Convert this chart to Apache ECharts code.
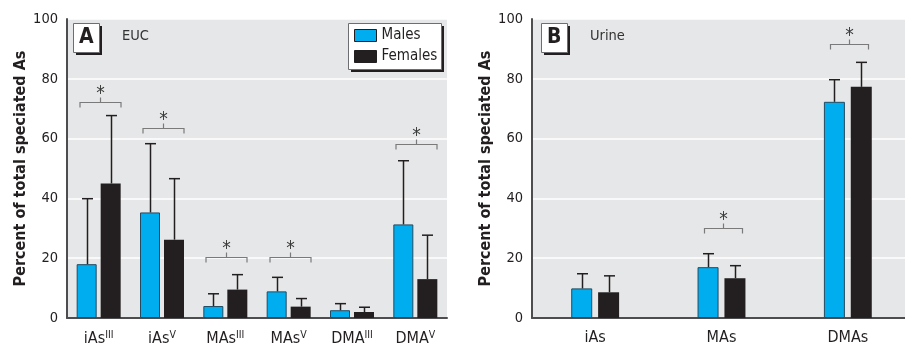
<!DOCTYPE html>
<html><head><meta charset="utf-8">
<script src="https://cdn.jsdelivr.net/npm/echarts@6/dist/echarts.min.js"></script>
<style>html,body{margin:0;padding:0;background:#fff}#c{width:905px;height:343px}</style>
</head><body><div id="c"></div>
<script>
// ---- data ----
const categoriesA = ['iAsIII','iAsV','MAsIII','MAsV','DMAIII','DMAV'];
const malesA = [18.0, 35.3, 4.0, 8.9, 2.6, 31.3];
const femalesA = [45.0, 26.2, 9.5, 3.8, 2.0, 13.0];
const malesErrA = [21.9, 23.0, 4.1, 4.7, 2.2, 21.3];
const femalesErrA = [22.7, 20.4, 5.0, 2.7, 1.6, 14.7];
const sigCatsA = [0, 1, 2, 3, 5];
const sigLevelsA = [72.3, 63.6, 20.4, 20.4, 58.3];

const categoriesB = ['iAs','MAs','DMAs'];
const malesB = [9.9, 17.0, 72.3];
const femalesB = [8.6, 13.3, 77.3];
const malesErrB = [4.9, 4.5, 7.4];
const femalesErrB = [5.5, 4.2, 8.2];
const sigCatsB = [1, 2];
const sigLevelsB = [30.0, 91.5];

const yMin = 0, yMax = 100, yStep = 20;
const yTitle = 'Percent of total speciated As';
const panelLabels = ['A', 'B'];
const panelNames = ['EUC', 'Urine'];
const seriesNames = ['Males', 'Females'];

// ---- style ----
const FF = "'DejaVu Sans Condensed','DejaVu Sans',sans-serif";
const BLUE = '#00aeef', BLACK = '#231f20', AXIS = '#4d4d4f';

function errSeries(xi, means, errs, offsetPx) {
  return {
    type: 'custom', xAxisIndex: xi, yAxisIndex: xi, z: 5, silent: true,
    encode: { x: 0, y: [1, 2] },
    data: means.map((m, i) => [i, m, m + errs[i]]),
    renderItem(params, api) {
      const c0 = api.coord([api.value(0), api.value(1)]);
      const c1 = api.coord([api.value(0), api.value(2)]);
      const x = Math.round(c0[0] + offsetPx) + 0.5;
      return { type: 'group', children: [
        { type: 'line', shape: { x1: x, y1: c0[1], x2: x, y2: c1[1] }, style: { stroke: BLACK, lineWidth: 1.5 } },
        { type: 'line', shape: { x1: x - 5.5, y1: c1[1], x2: x + 5.5, y2: c1[1] }, style: { stroke: BLACK, lineWidth: 1.5 } }
      ] };
    }
  };
}

function sigSeries(xi, cats, levels, halfW) {
  return {
    type: 'custom', xAxisIndex: xi, yAxisIndex: xi, z: 6, silent: true,
    encode: { x: 0, y: 1 },
    data: cats.map((c, i) => [c, levels[i]]),
    renderItem(params, api) {
      const p = api.coord([api.value(0), api.value(1)]);
      const x = Math.round(p[0]) + 1.5, y = Math.round(p[1]) + 0.5;
      return { type: 'group', children: [
        { type: 'polyline', shape: { points: [[x - halfW, y + 5], [x - halfW, y], [x + halfW, y], [x + halfW, y + 5]] },
          style: { stroke: '#7a7a7a', fill: null, lineWidth: 1.2 } },
        { type: 'line', shape: { x1: x, y1: y, x2: x, y2: y - 5 }, style: { stroke: '#7a7a7a', lineWidth: 1.2 } },
        { type: 'text', style: { text: '*', x: x, y: y - 8, fontSize: 19, fontFamily: FF, fill: '#3a3a3a', align: 'center', verticalAlign: 'middle' } }
      ] };
    }
  };
}

function xAxisCfg(gi, cats, rich) {
  return {
    type: 'category', gridIndex: gi, data: cats,
    axisLine: { lineStyle: { color: AXIS, width: 2 } },
    axisTick: { alignWithLabel: true, length: 7, lineStyle: { color: BLACK, width: 1.5 } },
    axisLabel: rich ? {
      interval: 0, margin: 12, color: BLACK,
      formatter: v => { const m = v.match(/^(.*?)(III|V)$/); return m ? '{b|' + m[1] + '}{s|' + m[2] + '}' : '{b|' + v + '}'; },
      rich: { b: { fontSize: 16, fontFamily: FF, color: BLACK, lineHeight: 18 },
              s: { fontSize: 10.5, fontFamily: FF, color: BLACK, verticalAlign: 'top', lineHeight: 18, padding: [0, 0, 7, 0] } }
    } : { interval: 0, margin: 12, color: BLACK, fontSize: 16, fontFamily: FF }
  };
}

function yAxisCfg(gi, gap) {
  return {
    type: 'value', gridIndex: gi, min: yMin, max: yMax, interval: yStep,
    name: yTitle, nameLocation: 'middle', nameGap: gap, nameRotate: 90,
    nameTextStyle: { fontSize: 16, fontWeight: 'bold', fontFamily: FF, color: BLACK },
    axisLine: { show: true, lineStyle: { color: AXIS, width: 2 } },
    axisTick: { show: false },
    axisLabel: { margin: 9, fontSize: 14.5, fontFamily: FF, color: BLACK },
    splitLine: { lineStyle: { color: '#ffffff', width: 1.5 } }
  };
}

function barSeries(name, xi, data, w, gap, male) {
  return {
    name, type: 'bar', xAxisIndex: xi, yAxisIndex: xi, data, barWidth: w, barGap: gap, z: 3,
    itemStyle: male ? { color: BLUE, borderColor: '#234a60', borderWidth: 1 } : { color: BLACK }
  };
}

function panelBox(x, y, label, name) {
  return [
    { type: 'rect', left: x + 3, top: y + 3, shape: { width: 26, height: 29 }, style: { fill: BLACK }, z: 10 },
    { type: 'rect', left: x, top: y, shape: { width: 26, height: 29 }, style: { fill: '#fff', stroke: '#6d6e71', lineWidth: 1 }, z: 11 },
    { type: 'text', left: x + 6, top: y + 4, style: { text: label, fontSize: 21, fontWeight: 'bold', fontFamily: FF, fill: BLACK }, z: 12 },
    { type: 'text', left: x + 49, top: y + 6, style: { text: name, fontSize: 14.5, fontFamily: FF, fill: '#333' }, z: 12 }
  ];
}

const legendBox = [
  { type: 'rect', left: 351, top: 26, shape: { width: 93, height: 46 }, style: { fill: BLACK }, z: 10 },
  { type: 'rect', left: 348, top: 23, shape: { width: 93, height: 46 }, style: { fill: '#fff', stroke: '#6d6e71', lineWidth: 1 }, z: 11 }
];

const chart = echarts.init(document.getElementById('c'), null, { renderer: 'canvas' });
chart.setOption({
  animation: false,
  backgroundColor: '#fff',
  grid: [
    { left: 67, top: 19, width: 380, height: 299, show: true, backgroundColor: '#e6e7e8', borderWidth: 0, outerBoundsMode: 'none', containLabel: false },
    { left: 532, top: 19, width: 379, height: 299, show: true, backgroundColor: '#e6e7e8', borderWidth: 0, outerBoundsMode: 'none', containLabel: false }
  ],
  legend: {
    data: seriesNames, orient: 'vertical', left: 354, top: 28, selectedMode: false, z: 20,
    itemWidth: 22, itemHeight: 12, itemGap: 6, padding: 0,
    icon: 'rect',
    itemStyle: { borderColor: BLACK, borderWidth: 1 },
    textStyle: { fontSize: 15, lineHeight: 15, fontFamily: FF, color: BLACK }
  },
  xAxis: [xAxisCfg(0, categoriesA, true), xAxisCfg(1, categoriesB, false)],
  yAxis: [yAxisCfg(0, 38), yAxisCfg(1, 36)],
  series: [
    barSeries(seriesNames[0], 0, malesA, 20, '20%', true),
    barSeries(seriesNames[1], 0, femalesA, 20, '20%', false),
    barSeries(seriesNames[0], 1, malesB, 21, '28%', true),
    barSeries(seriesNames[1], 1, femalesB, 21, '28%', false),
    errSeries(0, malesA, malesErrA, -12),
    errSeries(0, femalesA, femalesErrA, 12),
    errSeries(1, malesB, malesErrB, -13.5),
    errSeries(1, femalesB, femalesErrB, 13.5),
    sigSeries(0, sigCatsA, sigLevelsA, 20.5),
    sigSeries(1, sigCatsB, sigLevelsB, 19)
  ],
  graphic: [].concat(panelBox(73, 23, panelLabels[0], panelNames[0]), panelBox(541, 23, panelLabels[1], panelNames[1]), legendBox)
});
</script></body></html>
